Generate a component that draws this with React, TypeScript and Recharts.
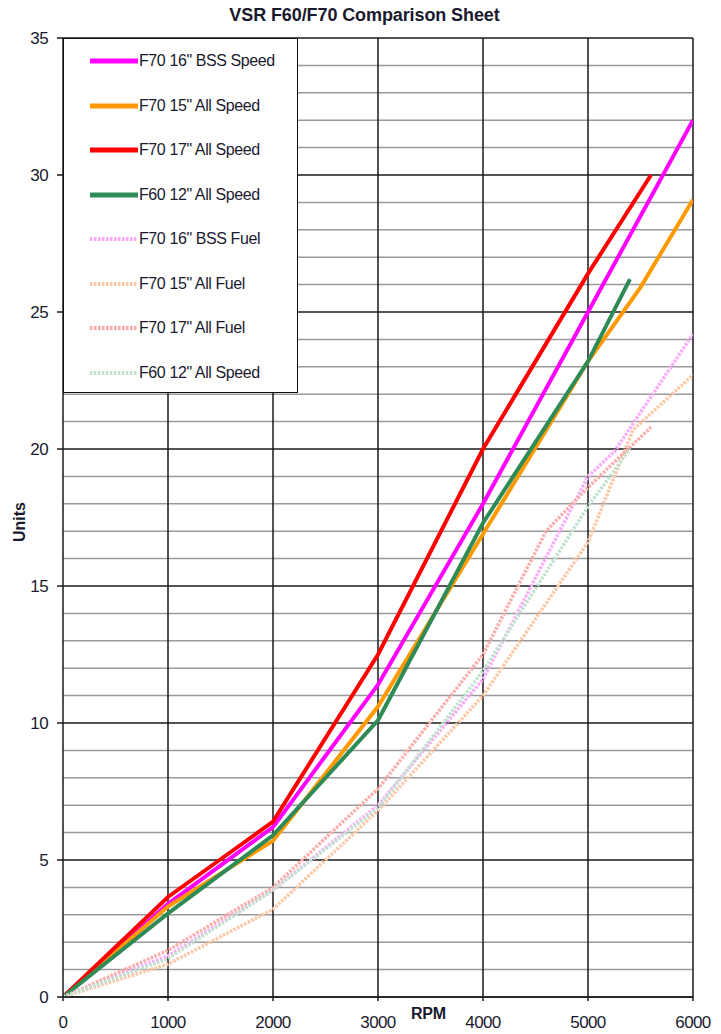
import React from 'react';
import { LineChart, Line, XAxis, YAxis, ReferenceLine, Legend } from 'recharts';

// ---- data ----
const xTicks = [0, 1000, 2000, 3000, 4000, 5000, 6000];
const yTicks = [0, 5, 10, 15, 20, 25, 30, 35];
const minorY = [1, 2, 3, 4, 6, 7, 8, 9, 11, 12, 13, 14, 16, 17, 18, 19, 21, 22, 23, 24, 26, 27, 28, 29, 31, 32, 33, 34];
const majorX = [1000, 2000, 3000, 4000, 5000, 6000];

const f70_16_speed_rpm = [0, 1000, 2000, 3000, 4000, 5000, 6000];
const f70_16_speed = [0, 3.4, 6.2, 11.4, 18.0, 25.0, 32.0];

const f70_15_speed_rpm = [0, 1000, 2000, 3000, 4000, 5000, 5500, 6000];
const f70_15_speed = [0, 3.3, 5.7, 10.6, 16.9, 23.2, 25.9, 29.1];

const f70_17_speed_rpm = [0, 1000, 2000, 3000, 4000, 5000, 5600];
const f70_17_speed = [0, 3.65, 6.4, 12.5, 20.0, 26.4, 30.0];

const f60_12_speed_rpm = [0, 1000, 2000, 3000, 4000, 5000, 5400];
const f60_12_speed = [0, 3.05, 5.9, 10.1, 17.3, 23.2, 26.2];

const f70_16_fuel_rpm = [0, 1000, 2000, 3000, 4000, 5000, 5250, 6000];
const f70_16_fuel = [0, 1.5, 3.9, 7.0, 11.6, 19.0, 19.9, 24.2];

const f70_15_fuel_rpm = [0, 1000, 2000, 3000, 4000, 5000, 5430, 6000];
const f70_15_fuel = [0, 1.2, 3.2, 6.8, 11.0, 16.6, 20.7, 22.7];

const f70_17_fuel_rpm = [0, 1000, 2000, 3000, 4000, 4600, 5000, 5600];
const f70_17_fuel = [0, 1.7, 4.0, 7.6, 12.5, 17.0, 18.6, 20.8];

const f60_12_fuel_rpm = [0, 1000, 2000, 3000, 4000, 5000, 5400];
const f60_12_fuel = [0, 1.4, 3.9, 6.9, 11.9, 17.9, 20.0];

const zip = (xs: number[], ys: number[]) => xs.map((x, i) => ({ x, y: ys[i] }));

const series = [
  { name: 'F70 16" BSS Speed', color: '#FF00FF', width: 4, dash: undefined, data: zip(f70_16_speed_rpm, f70_16_speed) },
  { name: 'F70 15" All Speed', color: '#FF9900', width: 4, dash: undefined, data: zip(f70_15_speed_rpm, f70_15_speed) },
  { name: 'F70 17" All Speed', color: '#FF0000', width: 4, dash: undefined, data: zip(f70_17_speed_rpm, f70_17_speed) },
  { name: 'F60 12" All Speed', color: '#2E8B57', width: 4, dash: undefined, data: zip(f60_12_speed_rpm, f60_12_speed) },
  { name: 'F70 16" BSS Fuel', color: '#FFA8FF', width: 3.5, dash: '2.5 1.5', data: zip(f70_16_fuel_rpm, f70_16_fuel) },
  { name: 'F70 15" All Fuel', color: '#FFC6A4', width: 3.5, dash: '2.5 1.5', data: zip(f70_15_fuel_rpm, f70_15_fuel) },
  { name: 'F70 17" All Fuel', color: '#FFAAAA', width: 3.5, dash: '2.5 1.5', data: zip(f70_17_fuel_rpm, f70_17_fuel) },
  { name: 'F60 12" All Speed', color: '#BFE2CC', width: 3.5, dash: '2.5 1.5', data: zip(f60_12_fuel_rpm, f60_12_fuel) },
];

const FONT = 'Liberation Sans, Arial, sans-serif';
const TEXT = '#1a1a2e';

const renderLegend = () => (
  <div
    style={{
      width: 235,
      height: 355,
      boxSizing: 'border-box',
      background: '#fff',
      border: '1.5px solid #111',
      position: 'relative',
    }}
  >
    {series.map((s, i) => (
      <div
        key={i}
        style={{
          position: 'absolute',
          left: 25,
          top: 22 + i * 44.5 - 10,
          height: 20,
          display: 'flex',
          alignItems: 'center',
          fontFamily: FONT,
          fontSize: 16,
          color: TEXT,
          whiteSpace: 'nowrap',
        }}
      >
        <svg width={50} height={10} style={{ display: 'block' }}>
          <line x1={1} y1={5} x2={49} y2={5} stroke={s.color} strokeWidth={s.dash ? 4 : 5} strokeDasharray={s.dash} strokeLinecap="butt" />
        </svg>
        <span style={{ marginLeft: 0, letterSpacing: -0.4 }}>{s.name}</span>
      </div>
    ))}
  </div>
);

export default function App() {
  return (
    <div style={{ position: 'absolute', left: 0, top: 0, width: 721, height: 1034, background: '#fff' }}>
      <div
        style={{
          position: 'absolute',
          left: 0,
          width: 721,
          top: 5,
          textAlign: 'center',
          fontFamily: FONT,
          fontWeight: 'bold',
          fontSize: 18,
          color: TEXT,
          paddingLeft: 4,
          letterSpacing: -0.1,
        }}
      >
        VSR F60/F70 Comparison Sheet
      </div>
      <LineChart
        width={721}
        height={1034}
        margin={{ top: 38, right: 28, left: 0, bottom: 0 }}
        style={{ position: 'absolute', left: 0, top: 0 }}
      >
        {minorY.map((v) => (
          <ReferenceLine key={'my' + v} y={v} stroke="#9a9a9a" strokeWidth={1.5} />
        ))}
        {yTicks.map((v) => (
          <ReferenceLine key={'My' + v} y={v} stroke="#1a1a1a" strokeWidth={1.5} />
        ))}
        {majorX.map((v) => (
          <ReferenceLine key={'Mx' + v} x={v} stroke="#1a1a1a" strokeWidth={1.5} />
        ))}
        <XAxis
          type="number"
          dataKey="x"
          domain={[0, 6000]}
          ticks={xTicks}
          allowDataOverflow
          height={37}
          stroke="#1a1a1a"
          strokeWidth={1.5}
          tickSize={4}
          tickMargin={15}
          tick={{ fontFamily: FONT, fontSize: 17, fill: TEXT, letterSpacing: -0.6 }}
        />
        <YAxis
          type="number"
          dataKey="y"
          domain={[0, 35]}
          ticks={yTicks}
          allowDataOverflow
          width={63}
          stroke="#1a1a1a"
          strokeWidth={1.5}
          tickSize={6}
          tickMargin={9}
          tick={{ fontFamily: FONT, fontSize: 17, fill: TEXT, letterSpacing: -0.6 }}
        />
        {series.map((s, i) => (
          <Line
            key={i}
            data={s.data}
            dataKey="y"
            name={s.name}
            type="linear"
            stroke={s.color}
            strokeWidth={s.width}
            strokeDasharray={s.dash}
            dot={false}
            activeDot={false}
            isAnimationActive={false}
          />
        ))}
        <Legend
          layout="vertical"
          align="center"
          verticalAlign="middle"
          content={renderLegend}
          wrapperStyle={{ position: 'absolute', left: 63, top: 38, width: 235, height: 355, margin: 0 }}
        />
      </LineChart>
      <div
        style={{
          position: 'absolute',
          left: 411,
          top: 1005,
          fontFamily: FONT,
          fontWeight: 'bold',
          fontSize: 16,
          color: TEXT,
          letterSpacing: -0.3,
        }}
      >
        RPM
      </div>
      <div
        style={{
          position: 'absolute',
          left: 20,
          top: 522,
          transform: 'translate(-50%, -50%) rotate(-90deg)',
          fontFamily: FONT,
          fontWeight: 'bold',
          fontSize: 16,
          color: TEXT,
        }}
      >
        Units
      </div>
    </div>
  );
}
